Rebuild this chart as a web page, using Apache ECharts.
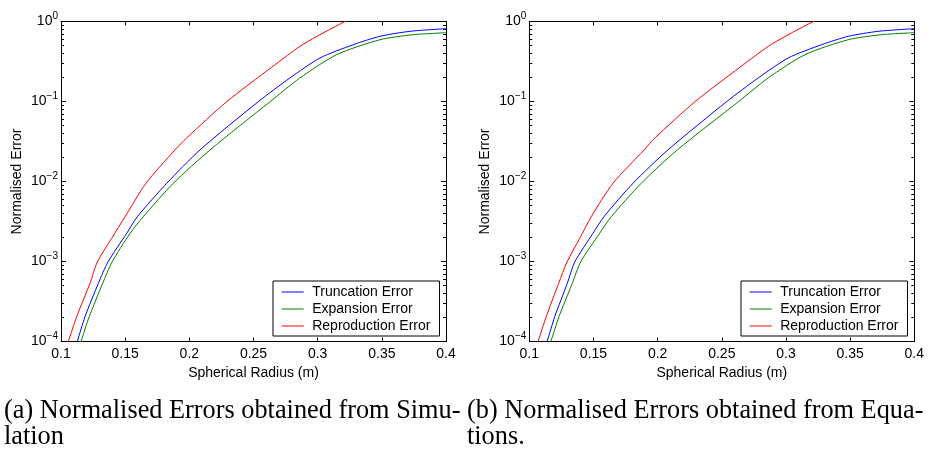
<!DOCTYPE html>
<html>
<head>
<meta charset="utf-8">
<script src="https://cdn.jsdelivr.net/npm/echarts@6/dist/echarts.min.js"></script>
<style>
html,body{margin:0;padding:0;background:#fff;}
#c{width:929px;height:452px;}
</style>
</head>
<body>
<div id="c"></div>
<script>
// ---- Data ----
const seriesNames = ['Truncation Error', 'Expansion Error', 'Reproduction Error'];
const seriesColors = ['#0000ff', '#008000', '#ff0000'];

// (a) Simulation
const simTruncX = [0.1, 0.1127, 0.1187, 0.1291, 0.1366, 0.1512, 0.1595, 0.1824, 0.2083, 0.2537, 0.2784, 0.3018, 0.3278, 0.3486, 0.3719, 0.4];
const simTruncY = [2.2e-5, 1e-4, 2.04e-4, 5.34e-4, 9.86e-4, 2.25e-3, 3.63e-3, 9.5e-3, 0.0248, 0.0994, 0.197, 0.35, 0.513, 0.653, 0.754, 0.813];
const simExpX = [0.1, 0.1156, 0.122, 0.1325, 0.1398, 0.1538, 0.1641, 0.1875, 0.2161, 0.2629, 0.2862, 0.3148, 0.3486, 0.3745, 0.4];
const simExpY = [1.8e-5, 1e-4, 2.04e-4, 5.34e-4, 9.86e-4, 2.25e-3, 3.63e-3, 9.5e-3, 0.0248, 0.0994, 0.197, 0.385, 0.592, 0.684, 0.724];
const simRepX = [0.1, 0.1057, 0.1122, 0.1226, 0.1283, 0.1395, 0.1499, 0.1662, 0.1888, 0.1979, 0.2291, 0.2644, 0.2888, 0.3213, 0.335];
const simRepY = [5.4e-5, 1e-4, 2.04e-4, 5.34e-4, 9.86e-4, 1.95e-3, 3.63e-3, 9.5e-3, 0.0248, 0.035, 0.0994, 0.27, 0.52, 1.0, 1.25];

// (b) Equations
const eqTruncX = [0.1, 0.1138, 0.1198, 0.1296, 0.1354, 0.1496, 0.1582, 0.1808, 0.208, 0.2537, 0.2784, 0.3018, 0.3278, 0.3486, 0.3719, 0.4];
const eqTruncY = [2.5e-5, 1e-4, 2.04e-4, 5.34e-4, 9.86e-4, 2.25e-3, 3.63e-3, 9.5e-3, 0.0248, 0.0994, 0.197, 0.35, 0.513, 0.653, 0.754, 0.813];
const eqExpX = [0.1, 0.1167, 0.1231, 0.1335, 0.14, 0.1548, 0.1639, 0.1872, 0.2153, 0.2629, 0.2862, 0.3148, 0.3486, 0.3745, 0.4];
const eqExpY = [2.0e-5, 1e-4, 2.04e-4, 5.34e-4, 9.86e-4, 2.25e-3, 3.63e-3, 9.5e-3, 0.0248, 0.0994, 0.197, 0.385, 0.592, 0.684, 0.724];
const eqRepX = [0.1, 0.1068, 0.1132, 0.1229, 0.1294, 0.1393, 0.1483, 0.1652, 0.1894, 0.1979, 0.2291, 0.2644, 0.2888, 0.3213, 0.335];
const eqRepY = [4.7e-5, 1e-4, 2.04e-4, 5.34e-4, 9.86e-4, 1.95e-3, 3.63e-3, 9.5e-3, 0.0248, 0.035, 0.0994, 0.27, 0.52, 1.0, 1.25];

const xTickLabels = ['0.1', '0.15', '0.2', '0.25', '0.3', '0.35', '0.4'];
const yTickExponents = [-4, -3, -2, -1, 0];
const xAxisName = 'Spherical Radius (m)';
const yAxisName = 'Normalised Error';
const captionA = '(a) Normalised Errors obtained from Simu-\nlation';
const captionB = '(b) Normalised Errors obtained from Equa-\ntions.';

// ---- Build ----
function pairs(xs, ys) { return xs.map((x, i) => [x, ys[i]]); }

const minorTicks = [];
yTickExponents.slice(0, -1).forEach(e => {
  for (let k = 2; k <= 9; k++) minorTicks.push(+(k * Math.pow(10, e)).toPrecision(3));
});

const FONT = 'Liberation Sans';
const grids = [
  { left: 61, top: 21.5, width: 385, height: 320 },
  { left: 529.3, top: 21.5, width: 385, height: 320 }
];

const xAxes = [], yAxes = [];
grids.forEach((g, gi) => {
  const xBase = {
    type: 'value', gridIndex: gi, min: 0.1, max: 0.4, interval: 0.05,
    splitLine: { show: false },
    axisLine: { show: true, lineStyle: { color: '#000', width: 1 } },
    axisTick: { show: true, inside: true, length: 4, lineStyle: { color: '#000' } }
  };
  xAxes.push(Object.assign({}, xBase, {
    position: 'bottom',
    axisLabel: {
      show: true, color: '#000', fontFamily: FONT, fontSize: 14, margin: 6,
      formatter: v => { const i = Math.round((v - 0.1) / 0.05); return xTickLabels[i] || ''; }
    },
    name: xAxisName, nameLocation: 'middle', nameGap: 22,
    nameTextStyle: { color: '#000', fontFamily: FONT, fontSize: 14 }
  }));
  xAxes.push(Object.assign({}, xBase, { position: 'top', axisLabel: { show: false } }));

  const yBase = {
    type: 'log', logBase: 10, gridIndex: gi, min: 1e-4, max: 1,
    splitLine: { show: false },
    axisLine: { show: true, lineStyle: { color: '#000', width: 1 } },
    axisTick: { show: true, inside: true, length: 5, lineStyle: { color: '#000' } },
    axisLabel: { show: false }
  };
  yAxes.push(Object.assign({}, yBase, {
    position: 'left',
    axisLabel: {
      show: true, margin: 3, color: '#000', fontFamily: FONT,
      formatter: v => {
        const e = Math.round(Math.log10(v));
        return '{b|10}{s|' + (e < 0 ? '\u2212' + (-e) : e) + '}';
      },
      rich: {
        b: { fontSize: 14, fontFamily: FONT, color: '#000', lineHeight: 16 },
        s: { fontSize: 10, fontFamily: FONT, color: '#000', lineHeight: 16, padding: [0, 0, 10, 0] }
      }
    },
    name: yAxisName, nameLocation: 'middle', nameGap: 37,
    nameTextStyle: { color: '#000', fontFamily: FONT, fontSize: 14 }
  }));
  yAxes.push(Object.assign({}, yBase, { position: 'right' }));
  const yMinor = {
    type: 'log', logBase: 10, gridIndex: gi, min: 1e-4, max: 1,
    splitLine: { show: false },
    axisLine: { show: false },
    axisLabel: { show: false },
    axisTick: { show: true, inside: true, length: 3, customValues: minorTicks, lineStyle: { color: '#000' } }
  };
  yAxes.push(Object.assign({}, yMinor, { position: 'left' }));
  yAxes.push(Object.assign({}, yMinor, { position: 'right' }));
});

const dataSets = [
  [pairs(simTruncX, simTruncY), pairs(simExpX, simExpY), pairs(simRepX, simRepY)],
  [pairs(eqTruncX, eqTruncY), pairs(eqExpX, eqExpY), pairs(eqRepX, eqRepY)]
];
const series = [];
dataSets.forEach((sets, gi) => {
  sets.forEach((d, si) => {
    series.push({
      name: seriesNames[si], type: 'line', data: d,
      xAxisIndex: gi * 2, yAxisIndex: gi * 4,
      symbol: 'none', showSymbol: false, smooth: 0.25,
      clip: true, silent: true, animation: false,
      color: seriesColors[si],
      lineStyle: { color: seriesColors[si], width: 1 }
    });
  });
});

const legendBase = {
  orient: 'vertical', top: 281,
  data: seriesNames,
  icon: 'rect', itemWidth: 22, itemHeight: 1, itemGap: 0,
  padding: [2.5, 9, 1.5, 8.7],
  backgroundColor: '#fff', borderColor: '#000', borderWidth: 1, borderRadius: 0,
  selectedMode: false,
  textStyle: { color: '#000', fontFamily: FONT, fontSize: 14, lineHeight: 17, padding: [0, 0, 0, 3.5] }
};

const capStyle = { color: '#000', fontFamily: 'Liberation Serif', fontSize: 26.3, fontWeight: 'normal', lineHeight: 26 };

const option = {
  backgroundColor: '#fff',
  animation: false,
  title: [
    { text: captionA, left: 4, top: 398, padding: 0, textStyle: capStyle },
    { text: captionB, left: 467, top: 398, padding: 0, textStyle: capStyle }
  ],
  grid: grids,
  xAxis: xAxes,
  yAxis: yAxes,
  legend: [
    Object.assign({}, legendBase, { left: 273 }),
    Object.assign({}, legendBase, { left: 741 })
  ],
  series: series
};

const chart = echarts.init(document.getElementById('c'), null, { renderer: 'canvas' });
chart.setOption(option);
</script>
</body>
</html>
